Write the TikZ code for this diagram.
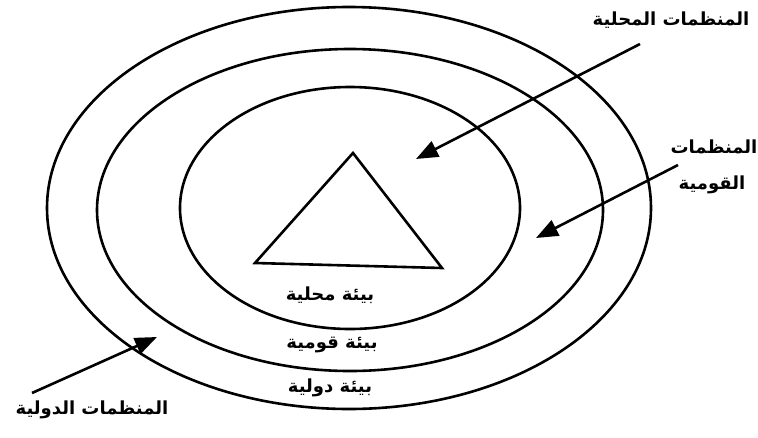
\documentclass[tikz,border=0pt]{standalone}
\usepackage{fontspec}
\newfontfamily\arabicfont[Script=Arabic,BoldFont={DejaVu Sans Bold}]{DejaVu Sans}
\TeXXeTstate=1
\usetikzlibrary{arrows.meta}
\tikzset{
  ring/.style={line width=2.6pt},
  pointer/.style={line width=2.6pt,-{Triangle[length=22pt,width=17pt]}},
  lbl/.style={font=\arabicfont\bfseries\fontsize{18}{20}\selectfont, inner sep=0pt, align=center}
}
\begin{document}
\begin{tikzpicture}[x=1pt,y=-1pt]
\useasboundingbox (0,0) rectangle (758,437);
% ellipses
\draw[ring] (349,208) ellipse [x radius=302, y radius=201];
\draw[ring] (350,210) ellipse [x radius=253, y radius=161];
\draw[ring] (350,208) ellipse [x radius=170, y radius=121];
% triangle
\coordinate (apex) at (353,153);
\coordinate (bl) at (255,263);
\coordinate (br) at (442,268);
\draw[ring, line join=miter] (apex) -- (bl) -- (br) -- cycle;
% labels
\node[lbl] (local) at (671,20) {\beginR المنظمات المحلية\endR};
\node[lbl] (nat1) at (714,147) {\beginR المنظمات\endR};
\node[lbl] (nat2) at (712,185) {\beginR القومية\endR};
\node[lbl] (intl) at (92,410) {\beginR المنظمات الدولية\endR};
\node[lbl] (envL) at (330,295) {\beginR بيئة محلية\endR};
\node[lbl] (envN) at (332,345) {\beginR بيئة قومية\endR};
\node[lbl] (envI) at (330,388) {\beginR بيئة دولية\endR};
% arrows
\coordinate (a1s) at (640,44);
\coordinate (a1t) at (416,159);
\coordinate (a2s) at (678,165);
\coordinate (a2t) at (536,238);
\coordinate (a3s) at (32,393);
\coordinate (a3t) at (157,337);
\draw[pointer] (a1s) -- (a1t);
\draw[pointer] (a2s) -- (a2t);
\draw[pointer] (a3s) -- (a3t);
\end{tikzpicture}
\end{document}
